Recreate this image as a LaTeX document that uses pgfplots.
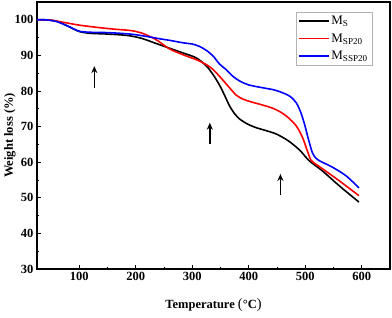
\documentclass[border=0pt]{standalone}
\usepackage{fontspec}
\setmainfont{Liberation Serif}
\usepackage{pgfplots}
\pgfplotsset{compat=1.18}
\usetikzlibrary{arrows.meta}
\begin{document}
\begin{tikzpicture}
\begin{axis}[
  scale only axis,
  width=353pt, height=267pt,
  xmin=25, xmax=650, ymin=30, ymax=105,
  xtick={100,200,...,600}, ytick={30,40,...,100},
  minor x tick num=1, minor y tick num=1,
  tick pos=left, tick align=inside,
  major tick length=4pt, minor tick length=2.5pt,
  every tick/.style={black, line width=1pt},
  axis line style={line width=1.5pt},
  /pgf/number format/assume math mode=true,
  xticklabel={\textbf{\pgfmathprintnumber{\tick}}},
  yticklabel={\textbf{\pgfmathprintnumber{\tick}}},
  ticklabel style={font=\fontsize{12.5}{14}\selectfont},
  xlabel={\textbf{Temperature} {\Large(}\textbf{°C}{\Large)}},
  ylabel={\textbf{Weight loss (\%)}},
  label style={font=\fontsize{12.5}{14}\selectfont},
  xlabel style={at={(axis description cs:0.5,-0.135)}, anchor=center},
  ylabel style={at={(axis description cs:-0.077,0.5)}, anchor=center, rotate=0},
  legend style={at={(0.949,0.963)}, anchor=north east, draw=gray!60, line width=0.5pt,
    font=\fontsize{13}{15}\selectfont, row sep=3.5pt, inner sep=2pt},
  legend cell align=left,
  legend image code/.code={\draw[#1, line width=1.6pt] (0pt,0pt) -- (30pt,0pt);},
]
\addplot[black, line width=1.6pt, smooth, tension=0.5] coordinates {
(25,100) (40,100) (60,99.6) (80,98.2) (100,96.7) (120,96.2) (150,96) (185,95.6)
(210,94.8) (235,93.4) (260,92) (285,90.6) (307,89.3) (325,87) (338,84.3) (349,81.4)
(358,78.5) (366,75.8) (375,73.6) (384,72.1) (398,70.7) (413,69.7) (430,68.9) (449,67.9)
(470,66) (490,63.4) (507,60.4) (530,57.6) (560,53.4) (595,48.8)};
\addlegendentry{M\textsubscript{S}}
\addplot[red, line width=1.6pt, smooth, tension=0.5] coordinates {
(25,100) (50,99.9) (75,99.2) (100,98.5) (130,97.9) (160,97.4) (190,97) (210,96.3)
(235,94.5) (260,91.8) (285,90.1) (307,88.8) (325,87.4) (337,86) (350,83.8) (366,80.9)
(378,78.8) (390,77.7) (405,76.9) (419,76.3) (440,75.3) (455,74.2) (470,72.5) (484,70.2)
(495,67) (503,63.5) (510,60.6) (520,59.3) (531,58.1) (560,54.8) (595,50.6)};
\addlegendentry{M\textsubscript{SP20}}
\addplot[blue, line width=1.6pt, smooth, tension=0.5] coordinates {
(25,100) (40,100) (60,99.5) (80,98.2) (100,96.8) (120,96.5) (150,96.4) (190,96)
(220,95.3) (245,94.6) (261,94.2) (285,93.5) (300,93.2) (313,92.5) (325,91.4) (337,89.8)
(348,87.6) (360,86) (372,84.1) (384,82.8) (400,81.7) (425,80.9) (445,80.3) (460,79.5)
(473,78.5) (484,76.7) (492,74) (499,70.5) (504,67.4) (509,64.5) (513,62.5) (519,61.1)
(525,60.4) (548,58.6) (572,56.2) (595,52.8)};
\addlegendentry{M\textsubscript{SSP20}}
\draw[-{Stealth[length=7pt,width=6pt]}, line width=1.5pt] (axis cs:126.5,80.9) -- (axis cs:126.5,87);
\draw[-{Stealth[length=7pt,width=6pt]}, line width=1.5pt] (axis cs:331,65.1) -- (axis cs:331,71.1);
\draw[-{Stealth[length=7pt,width=6pt]}, line width=1.5pt] (axis cs:456,50.8) -- (axis cs:456,56.7);
\end{axis}
\pgfresetboundingbox
\path (-37pt,-48pt) rectangle (355pt,269pt);
\end{tikzpicture}
\end{document}
